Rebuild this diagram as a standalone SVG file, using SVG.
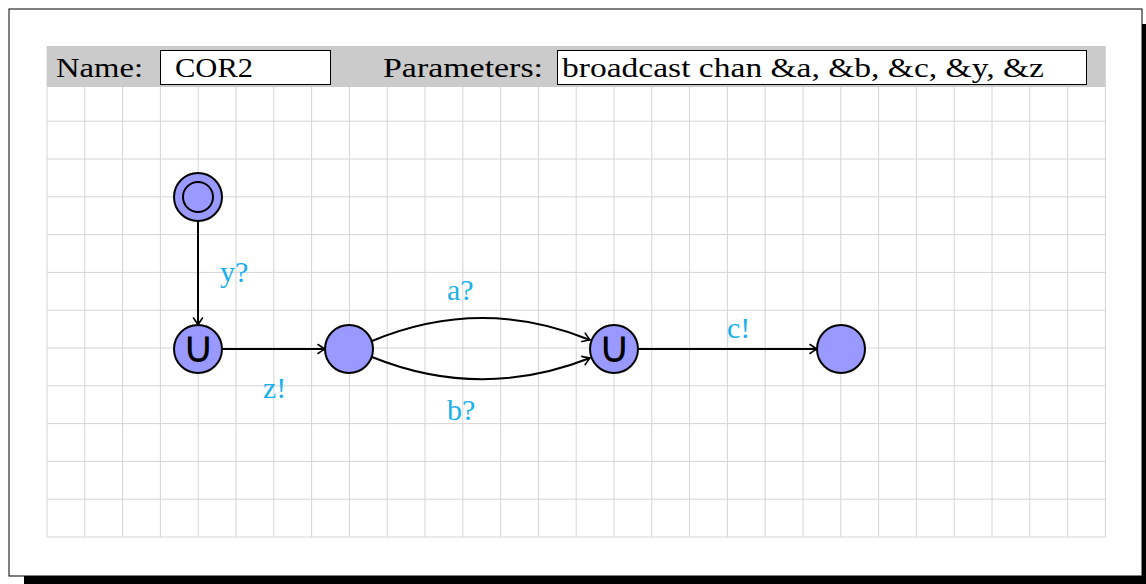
<svg xmlns="http://www.w3.org/2000/svg" width="1146" height="584" viewBox="0 0 1146 584">
<style>
.grid{stroke:#d4d4d4;stroke-width:1;fill:none}
.hdr{font-family:"Liberation Serif",serif;font-size:28px;fill:#000}
.box{fill:#fff;stroke:#000;stroke-width:1}
.node{fill:#9999ff;stroke:#000;stroke-width:2}
.edge{fill:none;stroke:#000;stroke-width:2;marker-end:url(#arr)}
.lbl{font-family:"Liberation Serif",serif;font-size:30px;fill:#1ab0ec}
.sym{font-family:"DejaVu Sans",sans-serif;font-size:44px;fill:#000;text-anchor:middle}
</style>
<defs>
<marker id="arr" markerWidth="12" markerHeight="12" refX="0" refY="0" viewBox="-8 -6 10 12" markerUnits="userSpaceOnUse" orient="auto">
<path d="M -7 -4.5 Q -2 -1 0 0 Q -2 1 -7 4.5" fill="none" stroke="#000" stroke-width="1.6" stroke-linecap="round"/>
</marker>
</defs>
<rect x="0" y="0" width="1146" height="584" fill="#fff"/>
<rect x="24" y="24" width="1122" height="560" fill="#000"/>
<rect x="9" y="9" width="1133" height="567" fill="#fff" stroke="#000" stroke-width="1"/>
<g id="grid">
<rect x="47" y="46" width="1058" height="491" fill="#fff"/>
<path class="grid" d="M47 46V537M84.8 46V537M122.6 46V537M160.4 46V537M198.2 46V537M236 46V537M273.8 46V537M311.6 46V537M349.4 46V537M387.2 46V537M425 46V537M462.8 46V537M500.6 46V537M538.4 46V537M576.2 46V537M614 46V537M651.8 46V537M689.6 46V537M727.4 46V537M765.2 46V537M803 46V537M840.8 46V537M878.6 46V537M916.4 46V537M954.2 46V537M992 46V537M1029.8 46V537M1067.6 46V537M1105.4 46V537"/>
<path class="grid" d="M47 121.2H1105.4M47 159H1105.4M47 196.8H1105.4M47 234.6H1105.4M47 272.4H1105.4M47 310.2H1105.4M47 348H1105.4M47 385.8H1105.4M47 423.6H1105.4M47 461.4H1105.4M47 499.2H1105.4M47 537H1105.4"/>
</g>
<g id="header">
<rect x="47" y="46" width="1058" height="41" fill="#cbcbcb"/>
<text class="hdr" x="56" y="77" textLength="87" lengthAdjust="spacingAndGlyphs">Name:</text>
<rect class="box" x="160.5" y="50.5" width="170" height="34"/>
<text class="hdr" x="175" y="77" textLength="78" lengthAdjust="spacingAndGlyphs">COR2</text>
<text class="hdr" x="383" y="77" textLength="160" lengthAdjust="spacingAndGlyphs">Parameters:</text>
<rect class="box" x="557.5" y="50.5" width="529" height="34"/>
<text class="hdr" x="562" y="77" textLength="482" lengthAdjust="spacingAndGlyphs">broadcast chan &amp;a, &amp;b, &amp;c, &amp;y, &amp;z</text>
</g>
<g id="connectors">
<path class="edge" d="M198 221V325"/>
<path class="edge" d="M222 349H325"/>
<path class="edge" d="M372 341Q481 295.5 590 340"/>
<path class="edge" d="M372 357Q481 401 590 358"/>
<path class="edge" d="M638 349H817"/>
<text class="lbl" x="220" y="282">y?</text>
<text class="lbl" x="263" y="398">z!</text>
<text class="lbl" x="447" y="300">a?</text>
<text class="lbl" x="447" y="420">b?</text>
<text class="lbl" x="727" y="338">c!</text>
</g>
<g id="n0">
<circle class="node" cx="198" cy="197" r="24"/>
<circle class="node" cx="198" cy="197" r="15"/>
</g>
<g id="n1">
<circle class="node" cx="198" cy="349" r="24"/>
<text class="sym" x="198" y="362">∪</text>
</g>
<g id="n2">
<circle class="node" cx="349" cy="349" r="24"/>
</g>
<g id="n3">
<circle class="node" cx="614" cy="349" r="24"/>
<text class="sym" x="614" y="362">∪</text>
</g>
<g id="n4">
<circle class="node" cx="841" cy="349" r="24"/>
</g>
</svg>
